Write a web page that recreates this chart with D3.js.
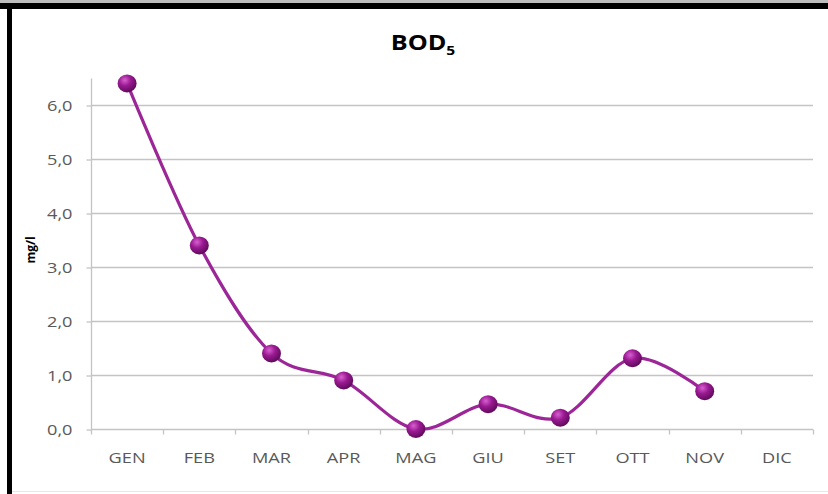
<!DOCTYPE html>
<html>
<head>
<meta charset="utf-8">
<script src="https://cdn.jsdelivr.net/npm/d3@7"></script>
<style>
  html, body { margin: 0; padding: 0; background: #fff; }
  svg { display: block; }
</style>
</head>
<body>
<svg id="chart" width="828" height="494"></svg>
<script>
// Monthly BOD5 readings (mg/l); December has no measurement
const months = ["GEN", "FEB", "MAR", "APR", "MAG", "GIU", "SET", "OTT", "NOV", "DIC"];
const bodValues = [6.4, 3.4, 1.4, 0.9, 0.0, 0.46, 0.21, 1.31, 0.7, null];
const yTicks = [0, 1, 2, 3, 4, 5, 6];

const svg = d3.select("#chart");
const W = 828, H = 494;
const plotLeft = 91, plotRight = 813, plotTop = 78, plotBottom = 429;
const FONT = "'Open Sans', sans-serif";
const STRETCH = 1.3; // horizontally widened label lettering

// Frame
svg.append("rect").attr("x", 0).attr("y", 0).attr("width", W).attr("height", H).attr("fill", "#fff");
svg.append("rect").attr("x", 0).attr("y", 0).attr("width", W).attr("height", 3).attr("fill", "#bdbdbd");
svg.append("rect").attr("x", 0).attr("y", 3).attr("width", W).attr("height", 6).attr("fill", "#000");
svg.append("rect").attr("x", 7).attr("y", 3).attr("width", 5).attr("height", H).attr("fill", "#000");
svg.append("line").attr("x1", 12).attr("x2", W).attr("y1", 491.5).attr("y2", 491.5)
  .attr("stroke", "#e6e6e6").attr("stroke-width", 1);

const x = d3.scaleBand().domain(months).range([plotLeft, plotRight]).paddingInner(0).paddingOuter(0);
const y = d3.scaleLinear().domain([0, 6]).range([plotBottom, 105]);

const GRID = "#c4c4c4";

// Horizontal gridlines
svg.append("g").selectAll("line").data(yTicks.filter(d => d > 0)).join("line")
  .attr("x1", plotLeft).attr("x2", plotRight)
  .attr("y1", d => Math.round(y(d)) + 0.5).attr("y2", d => Math.round(y(d)) + 0.5)
  .attr("stroke", GRID).attr("stroke-width", 1.3);

// Y axis
const yAxis = d3.axisLeft(y).tickValues(yTicks).tickSize(5).tickPadding(8)
  .tickFormat(d => d3.format(".1f")(d).replace(".", ","));
const gy = svg.append("g").attr("transform", `translate(${plotLeft + 0.5},0.5)`).call(yAxis);
gy.select(".domain").remove();
gy.append("line").attr("x1", 0).attr("x2", 0).attr("y1", plotTop).attr("y2", plotBottom)
  .attr("stroke", GRID).attr("stroke-width", 1.3);
gy.selectAll(".tick line").attr("stroke", GRID).attr("stroke-width", 1.3);
gy.selectAll(".tick text")
  .attr("x", 0).attr("dy", "0.36em")
  .attr("transform", `translate(-19,0) scale(${STRETCH},1)`)
  .attr("fill", "#595959")
  .style("font-family", FONT).style("font-size", "14px");

// X axis
const xAxis = d3.axisBottom(x).tickSize(0).tickPadding(0);
const gx = svg.append("g").attr("transform", `translate(0,${plotBottom + 0.5})`).call(xAxis);
gx.select(".domain").attr("stroke", GRID).attr("stroke-width", 1.3).attr("d", `M${plotLeft},0H${plotRight}`);
gx.selectAll(".tick text")
  .attr("y", 0).attr("dy", 0)
  .attr("transform", `translate(0,33) scale(${STRETCH},1)`)
  .attr("fill", "#595959")
  .style("font-family", FONT).style("font-size", "14px");
// Category separator ticks
const edges = months.map(m => x(m)).concat([x.range()[1]]);
gx.append("g").selectAll("line").data(edges).join("line")
  .attr("x1", d => Math.round(d) + 0.5).attr("x2", d => Math.round(d) + 0.5)
  .attr("y1", 0).attr("y2", 5)
  .attr("stroke", GRID).attr("stroke-width", 1.3);

// Axis title
svg.append("text")
  .attr("transform", "translate(35,250) rotate(-90)")
  .attr("text-anchor", "middle")
  .style("font-family", FONT).style("font-size", "12px").style("font-weight", "bold")
  .attr("fill", "#000")
  .text("mg/l");

// Chart title with subscript
const title = svg.append("text")
  .attr("transform", "translate(423,50) scale(1.2,1)")
  .attr("text-anchor", "middle")
  .style("font-family", FONT).style("font-weight", "bold")
  .attr("fill", "#000");
title.append("tspan").style("font-size", "21px").text("BOD");
title.append("tspan").style("font-size", "13px").attr("dy", 5).text("5");

// Data points
const pts = months.map((m, i) => ({ m, v: bodValues[i] })).filter(d => d.v !== null);
const cx = d => x(d.m) + x.bandwidth() / 2;

// Sphere-like marker fill
const defs = svg.append("defs");
const grad = defs.append("radialGradient").attr("id", "ball")
  .attr("cx", "38%").attr("cy", "32%").attr("r", "70%");
grad.append("stop").attr("offset", "0%").attr("stop-color", "#d860d0");
grad.append("stop").attr("offset", "45%").attr("stop-color", "#9a1a92");
grad.append("stop").attr("offset", "100%").attr("stop-color", "#5e0a5a");

const line = d3.line().x(cx).y(d => y(d.v)).curve(d3.curveCardinal.tension(0));
svg.append("path").datum(pts)
  .attr("d", line)
  .attr("fill", "none")
  .attr("stroke", "#9c2698")
  .attr("stroke-width", 3.2);

svg.append("g").selectAll("ellipse").data(pts).join("ellipse")
  .attr("cx", cx).attr("cy", d => y(d.v)).attr("rx", 9.5).attr("ry", 9)
  .attr("fill", "url(#ball)");
</script>
</body>
</html>
